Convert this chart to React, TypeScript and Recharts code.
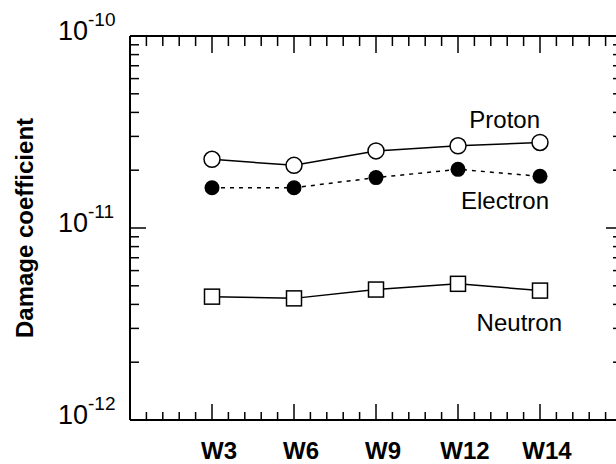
import { LineChart, Line, XAxis, YAxis } from 'recharts';

const categories = ['W3', 'W6', 'W9', 'W12', 'W14'];
const proton = [2.28e-11, 2.12e-11, 2.52e-11, 2.68e-11, 2.79e-11];
const electron = [1.62e-11, 1.62e-11, 1.83e-11, 2.02e-11, 1.86e-11];
const neutron = [4.39e-12, 4.3e-12, 4.78e-12, 5.12e-12, 4.72e-12];

const yDecades = [1e-12, 1e-11, 1e-10];
const yExponents = ['-12', '-11', '-10'];
const minorSteps = [2, 3, 4, 5, 6, 7, 8, 9];

const FONT = '"Liberation Sans", Arial, Helvetica, sans-serif';
const INK = '#000';

const data = categories.map((name, i) => ({
  x: i + 1,
  name,
  proton: proton[i],
  electron: electron[i],
  neutron: neutron[i],
}));

// log ticks: decades plus 2..9 in between
const yTicks: number[] = [];
yDecades.forEach((d, i) => {
  yTicks.push(d);
  if (i < yDecades.length - 1) minorSteps.forEach((m) => yTicks.push(d * m));
});

// x axis runs 0..6, minor ticks every 0.2
const xTicks: number[] = [];
for (let k = 0; k <= 30; k++) xTicks.push(Math.round(k * 2) / 10);

const isWhole = (v: number) => Math.abs(v - Math.round(v)) < 1e-6;
const isDecade = (v: number) => yDecades.some((d) => Math.abs(v / d - 1) < 1e-6);

function BottomTick({ x, y, payload }: any) {
  const v = payload.value;
  const major = isWhole(v);
  const idx = Math.round(v) - 1;
  return (
    <g>
      <line x1={x} x2={x} y1={y} y2={y - (major ? 16 : 8)} stroke={INK} strokeWidth={1.5} />
      {major && categories[idx] && (
        <text x={x + 7} y={y + 39} textAnchor="middle" fontFamily={FONT} fontWeight="bold" fontSize={24} fill={INK}>
          {categories[idx]}
        </text>
      )}
    </g>
  );
}

function TopTick({ x, y, payload }: any) {
  const major = isWhole(payload.value);
  return <line x1={x} x2={x} y1={y} y2={y + (major ? 17 : 10)} stroke={INK} strokeWidth={1.5} />;
}

function LeftTick({ x, y, payload }: any) {
  const v = payload.value;
  const major = isDecade(v);
  const di = yDecades.findIndex((d) => Math.abs(v / d - 1) < 1e-6);
  return (
    <g>
      <line x1={x} x2={x + (major ? 16 : 9)} y1={y} y2={y} stroke={INK} strokeWidth={1.5} />
      {major && (
        <text x={x - 72} y={y + 4} fontFamily={FONT} fontSize={27} fill={INK}>
          10
          <tspan dy={-14} fontSize={19}>
            {yExponents[di]}
          </tspan>
        </text>
      )}
    </g>
  );
}

function RightTick({ x, y, payload }: any) {
  const major = isDecade(payload.value);
  return <line x1={x} x2={x - (major ? 16 : 9)} y1={y} y2={y} stroke={INK} strokeWidth={1.5} />;
}

function YTitle({ viewBox }: any) {
  const cx = viewBox.x + viewBox.width - 106;
  const cy = viewBox.y + viewBox.height / 2;
  return (
    <text
      x={cx}
      y={cy}
      transform={`rotate(-90, ${cx}, ${cy})`}
      textAnchor="middle"
      dominantBaseline="central"
      fontFamily={FONT}
      fontWeight="bold"
      fontSize={24}
      fill={INK}
    >
      Damage coefficient
    </text>
  );
}

// series name written next to the last point
function seriesName(text: string, dx: number, dy: number) {
  return ({ x, y, index }: any) =>
    index === categories.length - 1 ? (
      <text key={text} x={x + dx} y={y + dy} textAnchor="end" fontFamily={FONT} fontSize={24} fill={INK}>
        {text}
      </text>
    ) : null;
}

function SquareDot({ cx, cy, index }: any) {
  return <rect key={`sq-${index}`} x={cx - 7.5} y={cy - 7.5} width={15} height={15} fill="#fff" stroke={INK} strokeWidth={1.5} />;
}

function FilledDot({ cx, cy, index }: any) {
  return <circle key={`fd-${index}`} cx={cx} cy={cy} r={7.5} fill={INK} />;
}

export default function App() {
  return (
    <div style={{ position: 'absolute', left: 0, top: 0, width: 616, height: 464, overflow: 'hidden', background: '#fff' }}>
      <LineChart width={630} height={464} data={data} margin={{ top: 35, right: 7, bottom: 43, left: 129 }}>
        <XAxis
          dataKey="x"
          type="number"
          domain={[0, 6]}
          ticks={xTicks}
          interval={0}
          height={1}
          tickSize={0}
          tickMargin={0}
          tickLine={false}
          tick={<BottomTick />}
          axisLine={{ stroke: INK, strokeWidth: 2 }}
          allowDataOverflow
        />
        <XAxis
          xAxisId="top"
          orientation="top"
          dataKey="x"
          type="number"
          domain={[0, 6]}
          ticks={xTicks}
          interval={0}
          height={1}
          tickSize={0}
          tickMargin={0}
          tickLine={false}
          tick={<TopTick />}
          axisLine={{ stroke: INK, strokeWidth: 2 }}
          allowDataOverflow
        />
        <YAxis
          type="number"
          scale="log"
          domain={[1e-12, 1e-10]}
          ticks={yTicks}
          interval={0}
          width={1}
          tickSize={0}
          tickMargin={0}
          tickLine={false}
          tick={<LeftTick />}
          axisLine={{ stroke: INK, strokeWidth: 2 }}
          label={<YTitle />}
          allowDataOverflow
        />
        <YAxis
          yAxisId="right"
          orientation="right"
          type="number"
          scale="log"
          domain={[1e-12, 1e-10]}
          ticks={yTicks}
          interval={0}
          width={1}
          tickSize={0}
          tickMargin={0}
          tickLine={false}
          tick={<RightTick />}
          axisLine={false}
          allowDataOverflow
        />
        <Line
          dataKey="proton"
          stroke={INK}
          strokeWidth={1.5}
          dot={{ r: 8, fill: '#fff', stroke: INK, strokeWidth: 1.5 }}
          label={seriesName('Proton', 0, -14)}
          isAnimationActive={false}
        />
        <Line
          dataKey="electron"
          stroke={INK}
          strokeWidth={1.5}
          strokeDasharray="4 5"
          dot={<FilledDot />}
          label={seriesName('Electron', 9, 33)}
          isAnimationActive={false}
        />
        <Line
          dataKey="neutron"
          stroke={INK}
          strokeWidth={1.5}
          dot={<SquareDot />}
          label={seriesName('Neutron', 22, 40)}
          isAnimationActive={false}
        />
      </LineChart>
    </div>
  );
}
